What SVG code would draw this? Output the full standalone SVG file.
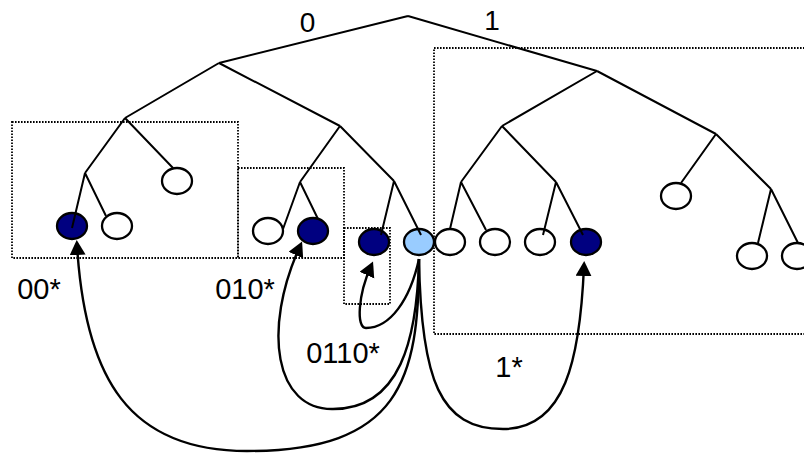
<svg xmlns="http://www.w3.org/2000/svg" width="804" height="453" viewBox="0 0 804 453">
<style>
.lbl{font-family:"Liberation Sans",Arial,sans-serif;font-size:29px;fill:#000;text-anchor:middle}
.top{font-size:28px}
.w{fill:#fff;stroke:#000;stroke-width:2.3}
.d{fill:#000080;stroke:#000;stroke-width:2.3}
.l{fill:#99ccff;stroke:#000;stroke-width:2.3}
.edge{stroke:#000;stroke-width:2;fill:none}
.box{fill:none;stroke:#000;stroke-width:1.8;stroke-dasharray:1.6 1.4}
.arr{fill:none;stroke:#000;stroke-width:2.4;marker-end:url(#ah)}
</style>
<defs>
<marker id="ah" markerUnits="userSpaceOnUse" markerWidth="16" markerHeight="18" refX="10" refY="8" orient="auto">
<path d="M0,0 L15,8 L0,16 z" fill="#000"/>
</marker>
</defs>
<rect width="804" height="453" fill="#fff"/>
<g id="boxes">
<rect class="box" x="12" y="122" width="226" height="136"/>
<rect class="box" x="238" y="168" width="106" height="90"/>
<rect class="box" x="344" y="228" width="46" height="76"/>
<rect class="box" x="434" y="48" width="380" height="286"/>
</g>
<g id="nodes">
<g id="n00a"><ellipse class="d" cx="72" cy="226" rx="15" ry="13"/></g>
<g id="n00b"><ellipse class="w" cx="117" cy="226" rx="15" ry="13"/></g>
<g id="n00c"><ellipse class="w" cx="177" cy="181" rx="15" ry="13"/></g>
<g id="n010a"><ellipse class="w" cx="268" cy="231" rx="15" ry="13"/></g>
<g id="n010b"><ellipse class="d" cx="313" cy="231" rx="15" ry="13"/></g>
<g id="n0110"><ellipse class="d" cx="374" cy="242" rx="15" ry="13"/></g>
<g id="n0111"><ellipse class="l" cx="419" cy="242" rx="15" ry="13"/></g>
<g id="n1a"><ellipse class="w" cx="450" cy="242" rx="15" ry="13"/></g>
<g id="n1b"><ellipse class="w" cx="495" cy="242" rx="15" ry="13"/></g>
<g id="n1c"><ellipse class="w" cx="540" cy="242" rx="15" ry="13"/></g>
<g id="n1d"><ellipse class="d" cx="586" cy="242" rx="15" ry="13"/></g>
<g id="n1e"><ellipse class="w" cx="676" cy="196" rx="15" ry="13"/></g>
<g id="n1f"><ellipse class="w" cx="752" cy="256" rx="15" ry="13"/></g>
<g id="n1g"><ellipse class="w" cx="797" cy="256" rx="15" ry="13"/></g>
</g>
<g id="connectors">
<g id="tree" class="edge">
<path d="M408,16 L219,63 M408,16 L597,71"/>
<path d="M219,63 L125,118 M219,63 L340,126"/>
<path d="M125,118 L85,173 M125,118 L173,168"/>
<path d="M85,173 L72,228 M85,173 L106,216"/>
<path d="M340,126 L300,182 M340,126 L394,181"/>
<path d="M300,182 L283,229 M300,182 L318,219"/>
<path d="M394,181 L381,235 M394,181 L421,235"/>
<path d="M597,71 L502,126 M597,71 L716,134"/>
<path d="M502,126 L461,182 M502,126 L556,182"/>
<path d="M461,182 L450,229 M461,182 L486,230"/>
<path d="M556,182 L543,235 M556,182 L583,235"/>
<path d="M716,134 L681,183 M716,134 L771,189"/>
<path d="M771,189 L758,243 M771,189 L798,243"/>
</g>
<g id="arrows">
<path class="arr" d="M419,259 C419,380 400,451 247,451 C130,451 85,380 77,245"/>
<path class="arr" d="M419,259 C417,340 400,409 333,409 C275,410 262,330 300,246"/>
<path class="arr" d="M419,259 C410,300 390,328 366,328 C356,328 358,295 371,266"/>
<path class="arr" d="M419,259 C421,380 440,429 503,429 C565,429 580,360 584,266"/>
</g>
</g>
<g id="labels">
<text class="lbl top" x="307.5" y="32">0</text>
<text class="lbl top" x="492" y="30">1</text>
<text class="lbl" x="39" y="299">00*</text>
<text class="lbl" x="245" y="299">010*</text>
<text class="lbl" x="343" y="363">0110*</text>
<text class="lbl" x="509" y="377">1*</text>
</g>
</svg>
